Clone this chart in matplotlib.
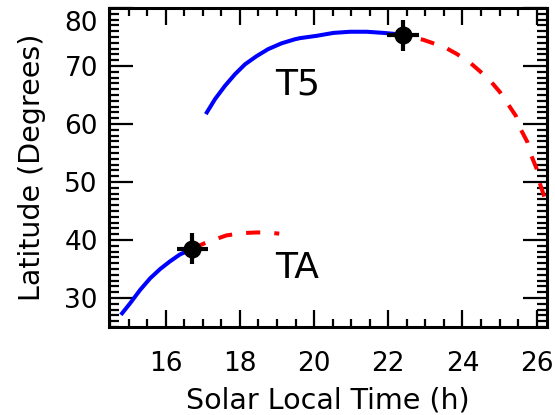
import matplotlib
matplotlib.use('Agg')
import matplotlib.pyplot as plt
from matplotlib.ticker import MultipleLocator
from matplotlib.transforms import ScaledTranslation

# T5 track: solid (blue) up to the observation, dashed (red) after it
t5_solid_x = [17.08, 17.33, 17.60, 17.87, 18.14, 18.45, 18.76, 19.12, 19.48, 19.62,
              20.07, 20.52, 20.97, 21.42, 21.87, 22.23, 22.40]
t5_solid_y = [61.7, 64.3, 66.6, 68.6, 70.3, 71.7, 72.9, 73.9, 74.6, 74.8,
              75.2, 75.7, 75.9, 75.9, 75.7, 75.5, 75.3]
t5_dash_x = [22.40, 22.95, 23.53, 23.84, 24.20, 24.47, 24.77, 25.01, 25.23, 25.44,
             25.57, 25.75, 25.86, 26.00, 26.09, 26.19, 26.30]
t5_dash_y = [75.3, 74.5, 73.2, 72.1, 70.6, 69.1, 67.3, 65.5, 63.4, 61.4,
             59.1, 56.9, 54.5, 52.3, 49.7, 47.8, 45.4]

# TA track
ta_solid_x = [14.79, 15.04, 15.31, 15.58, 15.85, 16.11, 16.38, 16.72]
ta_solid_y = [27.1, 29.1, 31.4, 33.4, 35.0, 36.3, 37.5, 38.5]
ta_dash_x = [16.72, 17.10, 17.64, 18.09, 18.45, 18.72, 19.06]
ta_dash_y = [38.5, 39.6, 40.8, 41.2, 41.3, 41.3, 41.1]

# observation points with error bars
obs_x = [16.72, 22.40]
obs_y = [38.5, 75.3]
obs_xerr = [0.43, 0.43]
obs_yerr = [2.7, 2.7]

labels = ['T5', 'TA']
label_x = [19.55, 19.55]
label_y = [66.8, 35.2]

plt.rcParams['font.family'] = 'DejaVu Sans'

fig = plt.figure(figsize=(5.55, 4.15), dpi=100)
ax = fig.add_axes([0.1964, 0.212, 0.7892, 0.7688])

ax.plot(t5_solid_x, t5_solid_y, color='#0000ff', lw=2.9, solid_capstyle='butt')
ax.plot(t5_dash_x, t5_dash_y, color='#ff0000', lw=2.9, ls=(2.5, (3.5, 3.5)))
ax.plot(ta_solid_x, ta_solid_y, color='#0000ff', lw=2.9, solid_capstyle='butt')
ax.plot(ta_dash_x, ta_dash_y, color='#ff0000', lw=2.9, ls=(0, (3.5, 3.5)))

ax.errorbar(obs_x, obs_y, xerr=obs_xerr, yerr=obs_yerr, fmt='o', color='k',
            ms=12, elinewidth=3, capsize=0, zorder=5)

for txt, tx, ty in zip(labels, label_x, label_y):
    ax.text(tx, ty, txt, fontsize=26, ha='center', va='center')

ax.set_xlim(14.47, 26.28)
ax.set_ylim(25, 80)
ax.xaxis.set_major_locator(MultipleLocator(2))
ax.xaxis.set_minor_locator(MultipleLocator(0.5))
ax.yaxis.set_major_locator(MultipleLocator(10))
ax.yaxis.set_minor_locator(MultipleLocator(1))
ax.set_yticks([30, 40, 50, 60, 70, 80])

ax.tick_params(axis='both', which='both', direction='in', top=True, right=True,
               labelsize=19)
ax.tick_params(axis='x', which='major', length=12, width=1.6, pad=17)
ax.tick_params(axis='x', which='minor', length=6, width=1.6)
ax.tick_params(axis='y', which='major', length=17, width=1.6, pad=8)
ax.tick_params(axis='y', which='minor', length=7, width=1.6)
for s in ax.spines.values():
    s.set_linewidth(2.2)

ax.set_xlabel('Solar Local Time (h)', fontsize=20.5, labelpad=7)
ax.set_ylabel('Latitude (Degrees)', fontsize=20.5, labelpad=13)

# the top y label sits a bit lower than its tick
fig.canvas.draw()
for lbl in ax.get_yticklabels():
    if lbl.get_text() == '80':
        lbl.set_transform(lbl.get_transform() +
                          ScaledTranslation(0, -13 / 100, fig.dpi_scale_trans))

fig.savefig('out.png', dpi=100)
